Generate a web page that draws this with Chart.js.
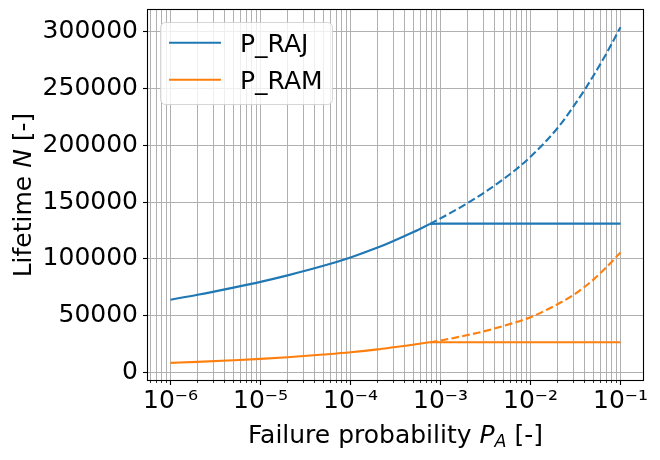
<!DOCTYPE html>
<html>
<head>
<meta charset="utf-8">
<script src="https://cdn.jsdelivr.net/npm/chart.js@4"></script>
<style>
  html, body { margin: 0; padding: 0; background: #fff; }
  #wrap { width: 660px; height: 460px; }
</style>
</head>
<body>
<div id="wrap"><canvas id="chart" width="660" height="460"></canvas></div>
<script>
// failure probability P_A up to the cap point (solid, rising part)
const pRise = [1e-6, 2e-6, 5e-6, 1e-5, 2e-5, 5e-5, 1e-4, 2e-4, 3e-4, 5e-4, 7.6e-4];
const rajRise = [64000, 68300, 74600, 79700, 85400, 93800, 101200, 109900, 115700, 123600, 130700];
const ramRise = [8300, 9200, 10600, 11800, 13300, 15700, 17700, 20200, 22000, 24300, 26500];

// capped part (solid, flat)
const pCap = [7.6e-4, 1e-3, 1e-1];
const rajCap = [130700, 131000, 131000];
const ramCap = [26500, 26500, 26500];

// uncapped continuation (dashed)
const pDashed = [7.6e-4, 1e-3, 2e-3, 3e-3, 5e-3, 7e-3, 1e-2, 2e-2, 3e-2, 4e-2, 5e-2, 7e-2, 1e-1];
const rajDashed = [130700, 135600, 149100, 157900, 170200, 179200, 189900, 215300, 234300, 249000, 261400, 281200, 304200];
const ramDashed = [26500, 28000, 32800, 36000, 40800, 44300, 48500, 60000, 68200, 75400, 81700, 92700, 105600];

const seriesNames = ['P_RAJ', 'P_RAM'];
const xMajorTicks = [1e-6, 1e-5, 1e-4, 1e-3, 1e-2, 1e-1];
const xTickLabels = ['10\u207B\u2076', '10\u207B\u2075', '10\u207B\u2074', '10\u207B\u00B3', '10\u207B\u00B2', '10\u207B\u00B9'];
const yTicks = [0, 50000, 100000, 150000, 200000, 250000, 300000];

const BLUE = '#1f77b4';
const ORANGE = '#ff7f0e';
const FAMILY = '"DejaVu Sans", sans-serif';
const FS = 25;
const DASH = [7.7, 3.3];

const X_MIN = Math.pow(10, -6.25);
const X_MAX = Math.pow(10, -0.75);

function isMajor(v) {
  return xMajorTicks.findIndex(m => Math.abs(v - m) / m < 1e-6);
}

// every 1..9 x 10^n inside the axis range, for the log grid
const xGridTicks = [];
[1e-7].concat(xMajorTicks).forEach(d => {
  for (let m = 1; m <= 9; m++) {
    const v = m * d;
    if (v >= X_MIN && v <= X_MAX) xGridTicks.push(v);
  }
});

const pts = (xs, ys) => xs.map((p, i) => ({ x: p, y: ys[i] }));

function drawParts(ctx, parts, x, y) {
  parts.forEach(p => {
    ctx.font = p.f;
    ctx.fillText(p.t, x, y + (p.dy || 0));
    x += ctx.measureText(p.t).width;
  });
}
function partsWidth(ctx, parts) {
  return parts.reduce((w, p) => { ctx.font = p.f; return w + ctx.measureText(p.t).width; }, 0);
}

const decor = {
  id: 'decor',
  afterDraw(chart) {
    const { ctx, chartArea: a, scales: { x, y } } = chart;
    ctx.save();

    // tick marks
    ctx.strokeStyle = '#000';
    y.ticks.forEach(t => {
      const py = Math.round(y.getPixelForValue(t.value) - 0.5) + 0.5;
      ctx.lineWidth = 1.1;
      ctx.beginPath(); ctx.moveTo(a.left - 5, py); ctx.lineTo(a.left, py); ctx.stroke();
    });
    x.ticks.forEach(t => {
      const major = isMajor(t.value) >= 0;
      const px = Math.round(x.getPixelForValue(t.value) - 0.5) + 0.5;
      ctx.lineWidth = major ? 1.1 : 0.8;
      ctx.beginPath(); ctx.moveTo(px, a.bottom); ctx.lineTo(px, a.bottom + (major ? 5 : 3)); ctx.stroke();
    });

    // spines
    ctx.lineWidth = 1.1;
    ctx.strokeRect(Math.round(a.left) - 0.5, Math.round(a.top) - 0.5, Math.round(a.right - a.left) + 1, Math.round(a.bottom - a.top) + 1);

    // axis titles
    ctx.fillStyle = '#000';
    ctx.textBaseline = 'alphabetic';
    ctx.textAlign = 'left';
    const norm = FS + 'px ' + FAMILY;
    const ital = 'italic ' + FS + 'px ' + FAMILY;
    const sub = 'italic ' + (FS * 0.7) + 'px ' + FAMILY;
    const xTitle = [
      { t: 'Failure probability ', f: norm },
      { t: 'P', f: ital },
      { t: 'A', f: sub, dy: 4 },
      { t: ' [-]', f: norm },
    ];
    const xw = partsWidth(ctx, xTitle);
    drawParts(ctx, xTitle, (a.left + a.right) / 2 - xw / 2, 443);

    const yTitle = [
      { t: 'Lifetime ', f: norm },
      { t: 'N', f: ital },
      { t: ' [-]', f: norm },
    ];
    const yw = partsWidth(ctx, yTitle);
    ctx.save();
    ctx.translate(31, (a.top + a.bottom) / 2);
    ctx.rotate(-Math.PI / 2);
    drawParts(ctx, yTitle, -yw / 2, 0);
    ctx.restore();

    // legend
    ctx.beginPath();
    ctx.roundRect(160.5, 22.5, 172, 82, 5);
    ctx.fillStyle = 'rgba(255,255,255,0.8)';
    ctx.fill();
    ctx.strokeStyle = 'rgba(204,204,204,0.8)';
    ctx.lineWidth = 1;
    ctx.stroke();
    const colors = [BLUE, ORANGE];
    seriesNames.forEach((name, i) => {
      const ly = 42.7 + i * 37;
      ctx.strokeStyle = colors[i];
      ctx.lineWidth = 2.1;
      ctx.beginPath(); ctx.moveTo(169, ly); ctx.lineTo(221, ly); ctx.stroke();
      ctx.fillStyle = '#000';
      ctx.font = norm;
      ctx.fillText(name, 240, ly + 9);
    });

    ctx.restore();
  }
};

const line = (data, color, dashed, smooth) => ({
  data,
  borderColor: color,
  borderWidth: 2.1,
  borderDash: dashed ? DASH : [],
  pointRadius: 0,
  cubicInterpolationMode: smooth ? 'monotone' : 'default',
  tension: 0,
  fill: false,
});

new Chart(document.getElementById('chart'), {
  type: 'line',
  data: {
    datasets: [
      line(pts(pRise, rajRise), BLUE, false, true),
      line(pts(pCap, rajCap), BLUE, false, false),
      line(pts(pDashed, rajDashed), BLUE, true, true),
      line(pts(pRise, ramRise), ORANGE, false, true),
      line(pts(pCap, ramCap), ORANGE, false, false),
      line(pts(pDashed, ramDashed), ORANGE, true, true),
    ],
  },
  options: {
    responsive: false,
    animation: false,
    devicePixelRatio: 1,
    layout: { padding: { top: 10, right: 17, left: 0, bottom: 0 } },
    plugins: { legend: { display: false }, tooltip: { enabled: false } },
    scales: {
      x: {
        type: 'logarithmic',
        min: X_MIN,
        max: X_MAX,
        bounds: 'data',
        afterBuildTicks: s => { s.ticks = xGridTicks.map(v => ({ value: v })); },
        afterFit: s => { s.height = 80; s.paddingLeft = 0; s.paddingRight = 0; },
        grid: { color: '#b0b0b0', lineWidth: 1, drawTicks: false },
        border: { display: false },
        ticks: {
          autoSkip: false,
          maxRotation: 0,
          minRotation: 0,
          padding: 6,
          color: '#000',
          font: { family: FAMILY, size: FS },
          callback: v => { const i = isMajor(v); return i >= 0 ? xTickLabels[i] : ''; },
        },
      },
      y: {
        type: 'linear',
        min: -6800,
        max: 319300,
        afterBuildTicks: s => { s.ticks = yTicks.map(v => ({ value: v })); },
        afterFit: s => { s.width = 148; s.paddingTop = 0; s.paddingBottom = 0; },
        grid: { color: '#b0b0b0', lineWidth: 1, drawTicks: false },
        border: { display: false },
        ticks: {
          padding: 10,
          color: '#000',
          font: { family: FAMILY, size: FS },
          callback: v => String(v),
        },
      },
    },
  },
  plugins: [decor],
});
</script>
</body>
</html>
